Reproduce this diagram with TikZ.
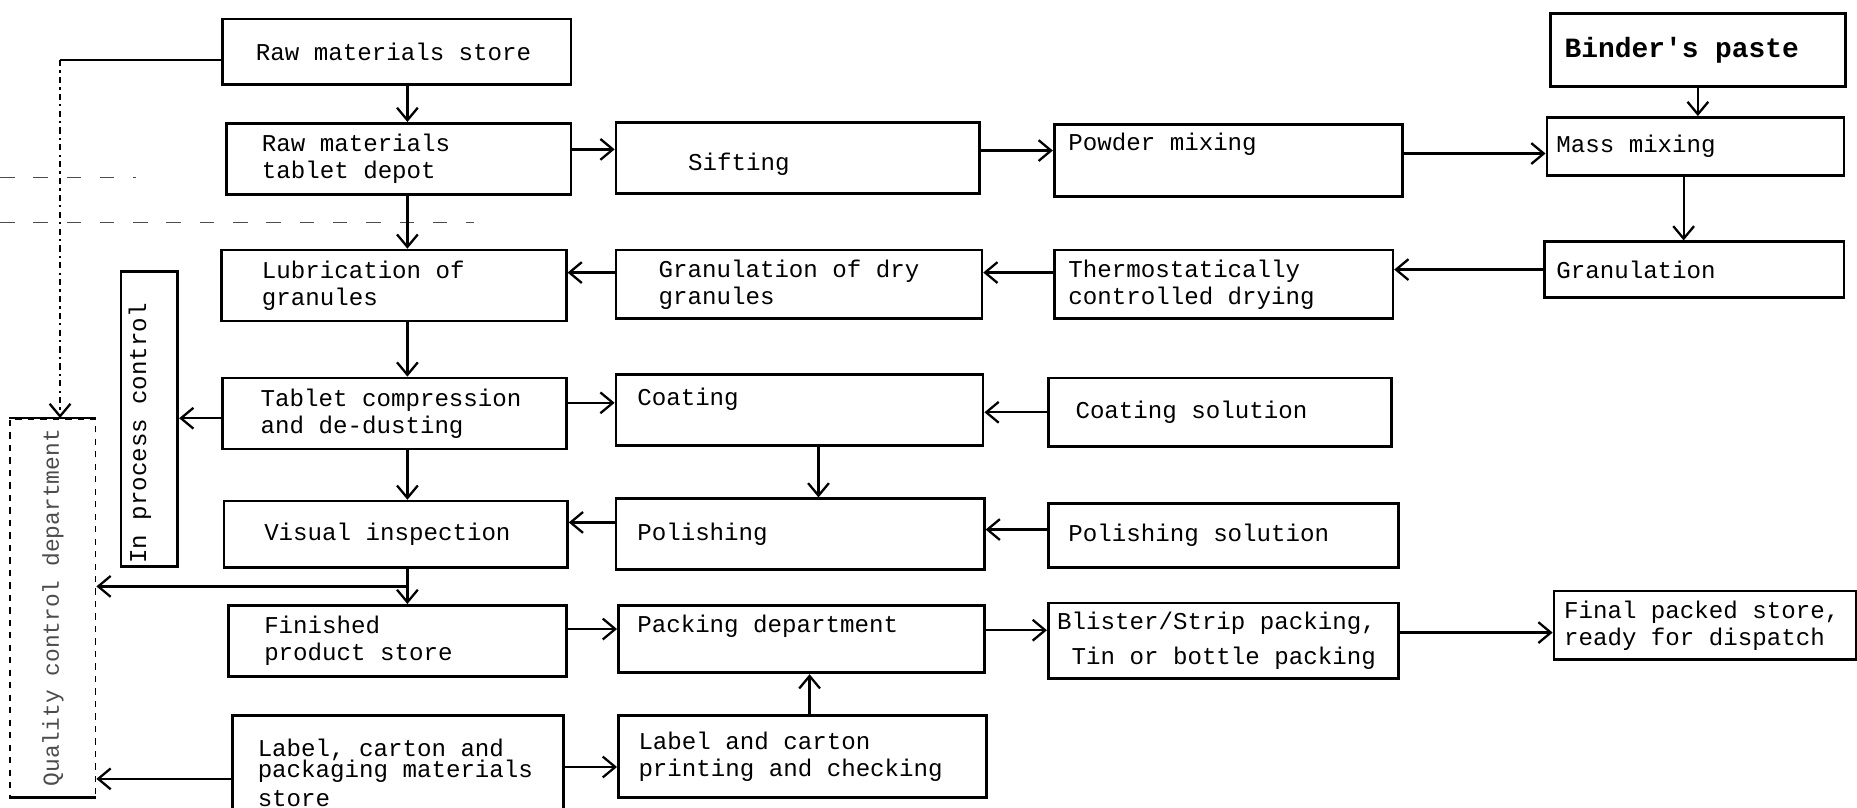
\documentclass[tikz,border=0pt]{standalone}
\usepackage{fontspec}
\usepackage{graphicx}
\newfontfamily\typer{Liberation Mono}
\protected\def\typeface{\typer\fontsize{11.6}{13}\selectfont\spaceskip=0.6em\relax}
\protected\def\pastefont{\typer\fontsize{13.4}{15}\selectfont\bfseries\spaceskip=0.6em\relax}
\protected\def\qcfont{\typer\fontsize{11}{13}\selectfont\spaceskip=0.6em\relax}
\usetikzlibrary{arrows.meta,calc}

\begin{document}
\begin{tikzpicture}[x=0.02cm,y=-0.02cm,
		font=\typeface,
		box/.style={draw,line width=1.3pt,anchor=north west,inner sep=0pt,align=flush left},
		flow/.style={line width=1.1pt,-{Straight Barb[length=6pt,width=10pt]}},
		fold/.style={black!70,line width=0.7pt,dash pattern=on 7pt off 9pt}]
		\useasboundingbox (0,0) rectangle (1568,682);
		\draw[fold] (0,150) -- (115,150);
		\draw[fold] (0,188) -- (400,188);
		\node[box,minimum width=5.88cm,minimum height=1.10cm,text width=4.76cm] (rawstore) at (187,15) {Raw materials store};
		\node[box,minimum width=5.82cm,minimum height=1.20cm,text width=4.62cm] (depot) at (190,103) {Raw materials\\tablet depot};
		\node[box,minimum width=6.14cm,minimum height=1.20cm,text width=3.70cm,text height=0.52cm] (sift) at (519,102) {Sifting};
		\node[box,minimum width=5.88cm,minimum height=1.22cm,text width=5.40cm,text depth=0.65cm] (powder) at (889,104) {Powder mixing};
		\node[box,minimum width=4.98cm,minimum height=1.24cm,text width=4.50cm,font=\pastefont] (binder) at (1308,10) {Binder\textquotesingle s paste};
		\node[box,minimum width=5.02cm,minimum height=0.98cm,text width=4.70cm] (mass) at (1305,98) {Mass mixing};
		\node[box,minimum width=5.06cm,minimum height=0.94cm,text width=4.66cm] (gran) at (1303,203) {Granulation};
		\node[box,minimum width=5.72cm,minimum height=1.16cm,text width=5.24cm] (thermo) at (889,210) {Thermostatically\\controlled drying};
		\node[box,minimum width=6.18cm,minimum height=1.16cm,text width=4.74cm] (grandry) at (519,210) {Granulation of dry\\granules};
		\node[box,minimum width=5.82cm,minimum height=1.20cm,text width=4.46cm] (lube) at (186,210) {Lubrication of\\granules};
		\node[box,minimum width=0.96cm,minimum height=4.98cm,text height=4.90cm] (inproc) at (101,228) {\rotatebox{90}{In process control}\hspace{0.32cm}};
		\node[box,minimum width=5.80cm,minimum height=1.20cm,text width=4.52cm] (tablet) at (187,318) {Tablet compression\\and de-dusting};
		\node[box,minimum width=6.20cm,minimum height=1.20cm,text width=5.48cm,text depth=0.43cm] (coat) at (519,315) {Coating};
		\node[box,minimum width=5.80cm,minimum height=1.16cm,text width=4.88cm] (coatsol) at (884,318) {Coating solution};
		\node[box,minimum width=5.80cm,minimum height=1.12cm,text width=4.44cm] (visual) at (188,422) {Visual inspection};
		\node[box,minimum width=6.22cm,minimum height=1.20cm,text width=5.50cm] (polish) at (519,420) {Polishing};
		\node[box,minimum width=5.92cm,minimum height=1.08cm,text width=5.24cm] (polsol) at (884,424) {Polishing solution};
		\node[box,minimum width=5.70cm,minimum height=1.20cm,text width=4.50cm] (finished) at (192,510) {Finished\\product store};
		\node[box,minimum width=6.18cm,minimum height=1.14cm,text width=5.54cm,text depth=0.53cm] (packdept) at (521,510) {Packing department};
		\node[box,minimum width=5.92cm,minimum height=1.28cm,text width=5.62cm] (blister) at (884,508) {Blister/Strip packing,\\[4pt]\ Tin or bottle packing};
		\node[box,minimum width=5.10cm,minimum height=1.16cm,text width=4.76cm] (final) at (1311,498) {Final packed store,\\ready for dispatch};
		\node[box,minimum width=5.60cm,minimum height=1.94cm,text width=4.74cm] (labelstore) at (195,603) {Label, carton and\\[-3pt]packaging materials\\[1pt]store};
		\node[box,minimum width=6.22cm,minimum height=1.38cm,text width=5.54cm] (labelprint) at (521,603) {Label and carton\\printing and checking};
		\node[box,dashed,line width=0.8pt,minimum width=1.44cm,minimum height=6.38cm,text=black!70,font=\qcfont] (qc) at (8,353) {\rotatebox{90}{Quality control department}};
		\draw[line width=1.3pt] (qc.north west) -- (qc.north east);
		\draw[line width=1.3pt] (qc.south west) -- (qc.south east);
		\coordinate (spine) at (344,0);
		\draw[flow] (rawstore.south -| spine) -- (depot.north -| spine);
		\draw[flow] (depot.south -| spine) -- (lube.north -| spine);
		\draw[flow] (lube.south -| spine) -- (tablet.north -| spine);
		\draw[flow] (tablet.south -| spine) -- (visual.north -| spine);
		\coordinate (split) at ($(visual.south -| spine)!.5!(finished.north -| spine)$);
		\draw[line width=1.1pt] (visual.south -| spine) -- (split);
		\draw[flow] (split) -- (finished.north -| spine);
		\draw[flow] (split) -- (split -| qc.east);
		\draw[flow] ([yshift=0.16cm]depot.east) -- ([yshift=0.16cm]depot.east -| sift.west);
		\draw[flow] ([yshift=0.12cm]sift.east) -- ([yshift=0.12cm]sift.east -| powder.west);
		\draw[flow] ([yshift=0.12cm]powder.east) -- ([yshift=0.12cm]powder.east -| mass.west);
		\draw[flow] (binder.south) -- (binder.south |- mass.north);
		\draw[flow] ([xshift=-0.2cm]mass.south) -- ([xshift=-0.2cm]mass.south |- gran.north);
		\draw[flow] (gran.west) -- (gran.west -| thermo.east);
		\draw[flow] ([yshift=0.2cm]thermo.west) -- ([yshift=0.2cm]thermo.west -| grandry.east);
		\draw[flow] ([yshift=0.2cm]grandry.west) -- ([yshift=0.2cm]grandry.west -| lube.east);
		\draw[flow] ([yshift=0.18cm]tablet.east) -- ([yshift=0.18cm]tablet.east -| coat.west);
		\draw[flow] ([yshift=-0.08cm]tablet.west) -- ([yshift=-0.08cm]tablet.west -| inproc.east);
		\draw[flow] (coatsol.west) -- (coatsol.west -| coat.east);
		\draw[flow] ([xshift=0.32cm]coat.south) -- ([xshift=0.32cm]coat.south |- polish.north);
		\draw[flow] ([yshift=0.1cm]polsol.west) -- ([yshift=0.1cm]polsol.west -| polish.east);
		\draw[flow] ([yshift=0.2cm]polish.west) -- ([yshift=0.2cm]polish.west -| visual.east);
		\draw[flow] ([yshift=0.2cm]finished.east) -- ([yshift=0.2cm]finished.east -| packdept.west);
		\draw[flow] ([yshift=0.15cm]packdept.east) -- ([yshift=0.15cm]packdept.east -| blister.west);
		\draw[flow] ([yshift=0.14cm]blister.east) -- ([yshift=0.14cm]blister.east -| final.west);
		\draw[flow] ([xshift=0.12cm]labelprint.north) -- ([xshift=0.12cm]labelprint.north |- packdept.south);
		\draw[flow] ([yshift=0.1cm]labelstore.east) -- ([yshift=0.1cm]labelstore.east -| labelprint.west);
		\draw[flow] ([yshift=-0.1cm]labelstore.west) -- ([yshift=-0.1cm]labelstore.west -| qc.east);
		\coordinate (qcfeed) at ([xshift=0.12cm,yshift=-0.14cm]rawstore.west -| qc.north);
		\draw[line width=1.1pt] ([yshift=-0.14cm]rawstore.west) -- (qcfeed);
		\draw[flow,dash dot] (qcfeed) -- (qcfeed |- qc.north);
	\end{tikzpicture}
\end{document}
